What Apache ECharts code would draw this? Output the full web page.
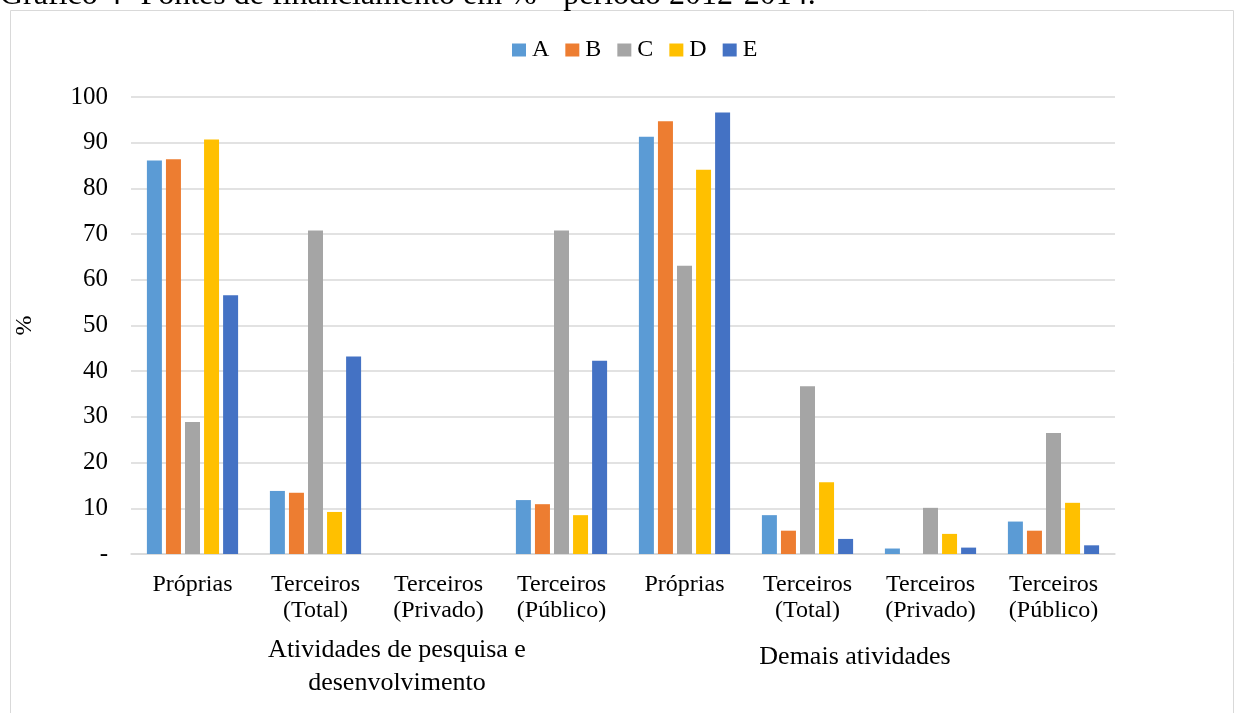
<!DOCTYPE html>
<html>
<head>
<meta charset="utf-8">
<script src="https://cdn.jsdelivr.net/npm/echarts@6/dist/echarts.min.js"></script>
<style>
  html, body { margin: 0; padding: 0; background: #fff; }
  #chart { width: 1244px; height: 713px; }
</style>
</head>
<body>
<div id="chart"></div>
<script>
// categories (two-level x axis)
const categories = [
  "Próprias", "Terceiros\n(Total)", "Terceiros\n(Privado)", "Terceiros\n(Público)",
  "Próprias", "Terceiros\n(Total)", "Terceiros\n(Privado)", "Terceiros\n(Público)"
];
const groups = ["Atividades de pesquisa e\ndesenvolvimento", "Demais atividades"];

// series values (%)
const seriesNames = ["A", "B", "C", "D", "E"];
const valuesA = [86.1, 13.8, 0, 11.8, 91.3, 8.5, 1.2, 7.1];
const valuesB = [86.4, 13.4, 0, 10.9, 94.7, 5.1, 0, 5.1];
const valuesC = [28.9, 70.8, 0, 70.8, 63.1, 36.7, 10.1, 26.5];
const valuesD = [90.7, 9.2, 0, 8.5, 84.1, 15.7, 4.4, 11.2];
const valuesE = [56.6, 43.2, 0, 42.3, 96.6, 3.3, 1.4, 1.9];

const colors = ["#5b9bd5", "#ed7d31", "#a5a5a5", "#ffc000", "#4472c4"];
const FONT = "Liberation Serif";

const chart = echarts.init(document.getElementById("chart"));

const allValues = [valuesA, valuesB, valuesC, valuesD, valuesE];
const series = seriesNames.map((name, i) => ({
  name: name,
  type: "bar",
  data: allValues[i],
  barWidth: 15,
  barGap: "27%",
  itemStyle: { color: colors[i] },
  animation: false
}));

chart.setOption({
  animation: false,
  color: colors,
  textStyle: { fontFamily: FONT },
  graphic: [
    {
      type: "rect",
      shape: { x: 10.5, y: 10.5, width: 1223, height: 720 },
      style: { fill: null, stroke: "#d9d9d9", lineWidth: 1 },
      silent: true
    },
    {
      // page caption above the chart box, cut by the top edge
      type: "text",
      x: 0,
      y: 12,
      style: {
        text: "Gráfico 4- Fontes de financiamento em % - período 2012-2014.",
        font: "32px 'Liberation Serif'",
        fill: "#000",
        verticalAlign: "bottom"
      },
      silent: true
    }
  ],
  legend: {
    data: seriesNames,
    top: 33,
    left: 507,
    itemWidth: 14,
    itemHeight: 13,
    itemGap: 16,
    icon: "rect",
    textStyle: { fontFamily: FONT, fontSize: 24, color: "#000", padding: [0, 0, 0, 1] }
  },
  grid: { left: 131, right: 129, top: 97, bottom: 159, containLabel: false },
  xAxis: [
    {
      type: "category",
      data: categories,
      position: "bottom",
      axisLine: { lineStyle: { color: "#d9d9d9", width: 1.5 } },
      axisTick: { show: false },
      axisLabel: {
        interval: 0,
        margin: 18,
        fontFamily: FONT,
        fontSize: 24,
        lineHeight: 26,
        color: "#000"
      }
    },
    {
      type: "category",
      data: groups,
      position: "bottom",
      axisLine: { show: false },
      axisTick: { show: false },
      splitLine: { show: false },
      axisLabel: {
        interval: 0,
        margin: 113,
        verticalAlign: "middle",
        fontFamily: FONT,
        fontSize: 26,
        lineHeight: 33,
        color: "#000",
        formatter: function (v, i) {
          return i === 0 ? "{a|" + v + "}" : "{b|" + v + "}";
        },
        rich: {
          a: { fontFamily: FONT, fontSize: 26, lineHeight: 33, color: "#000", padding: [0, 0, 0, 40] },
          b: { fontFamily: FONT, fontSize: 26, lineHeight: 33, color: "#000", padding: [0, 28, 19, 0] }
        }
      }
    }
  ],
  yAxis: {
    type: "value",
    min: 0,
    max: 100,
    interval: 10,
    name: "%",
    nameLocation: "middle",
    nameGap: 94,
    nameTextStyle: { fontFamily: FONT, fontSize: 24, color: "#000" },
    axisLine: { show: false },
    axisTick: { show: false },
    splitLine: { lineStyle: { color: "#d9d9d9", width: 1.5 } },
    axisLabel: {
      margin: 23,
      fontFamily: FONT,
      fontSize: 25,
      color: "#000",
      formatter: function (v) { return v === 0 ? "-" : String(v); }
    }
  },
  series: series
});
</script>
</body>
</html>
